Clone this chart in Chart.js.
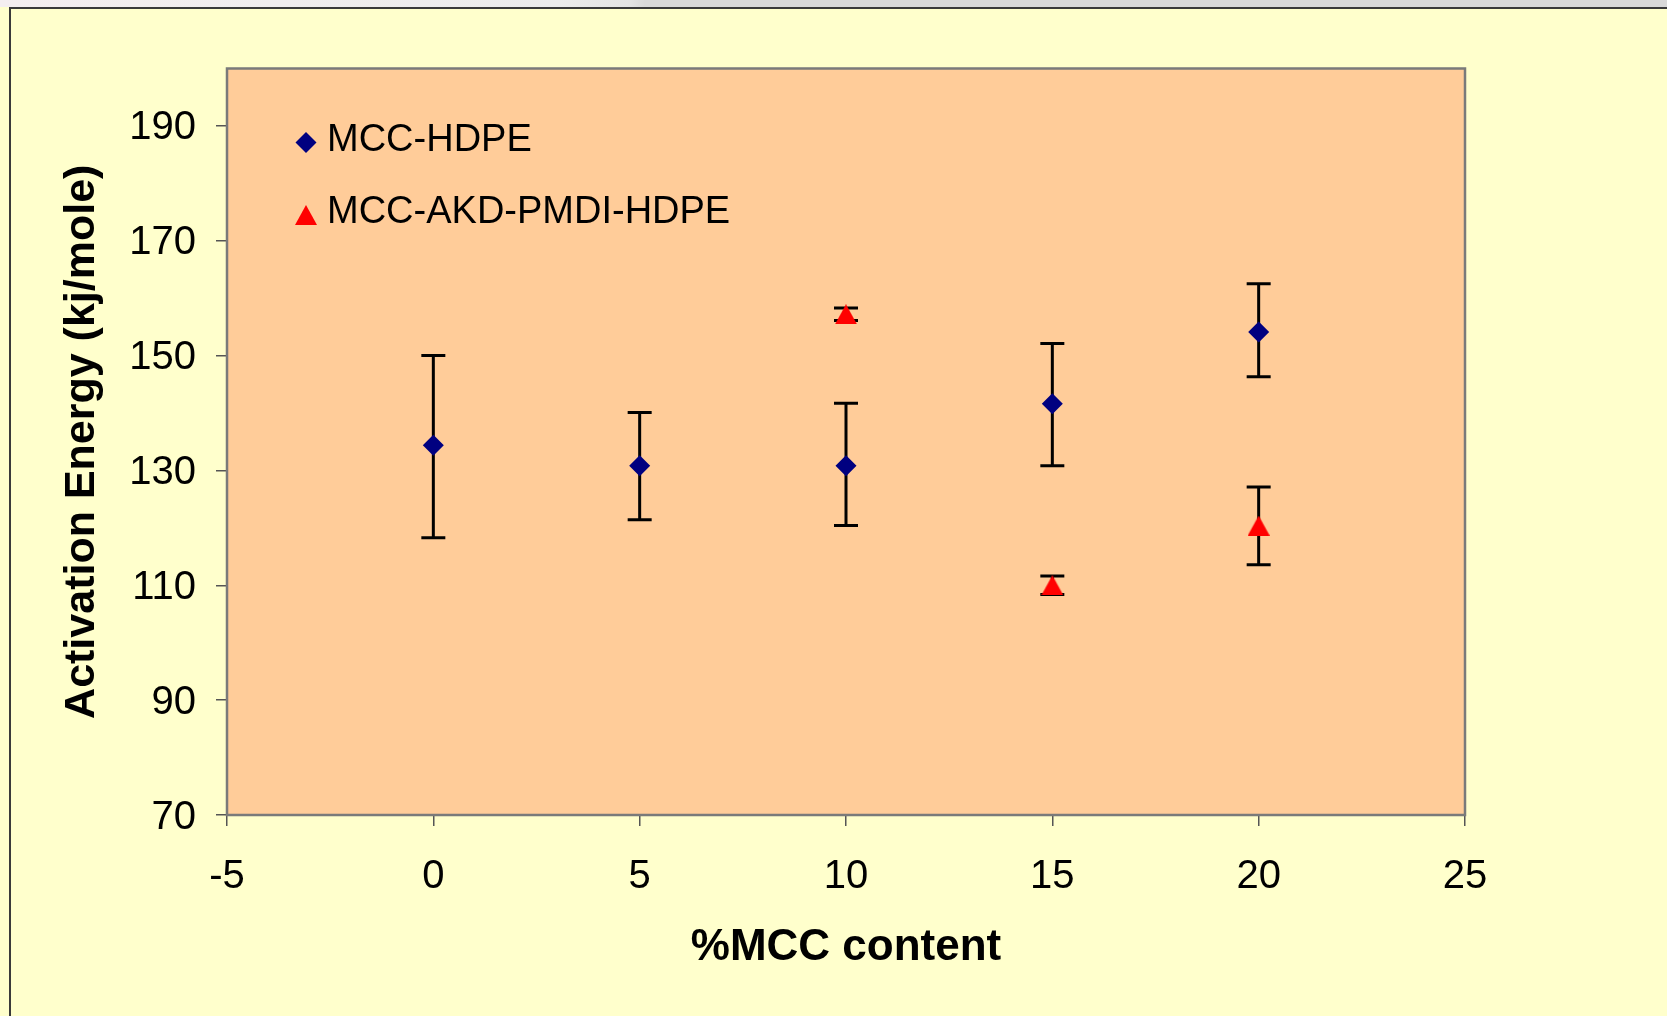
<!DOCTYPE html>
<html>
<head>
<meta charset="utf-8">
<script src="https://cdn.jsdelivr.net/npm/chart.js"></script>
<style>
    html, body {
        margin: 0;
        padding: 0;
        width: 1667px;
        height: 1016px;
        overflow: hidden;
        background: #FFFFCC;
    }
    #strip {
        position: absolute;
        left: 0;
        top: 0;
        width: 1667px;
        height: 7px;
        background: linear-gradient(to right, #f4eef0 0px, #ececec 560px, #e4e4e4 630px, #d9d9d9 645px, #d9d9d9 100%);
    }
    #frame {
        position: absolute;
        left: 9px;
        top: 7px;
        width: 1680px;
        height: 1030px;
        border-left: 2px solid #3a3a3a;
        border-top: 2px solid #3a3a3a;
    }
    #chart-box {
        position: absolute;
        left: 0;
        top: 0;
    }
</style>
</head>
<body>
<div id="strip"></div>
<div id="frame"></div>
<div id="chart-box">
    <canvas id="energy-chart" width="1667" height="1016"></canvas>
</div>
<script>
// MCC-HDPE composites
const hdpeX = [0, 5, 10, 15, 20];
const hdpeMean = [134.4, 130.8, 130.8, 141.6, 154.1];
const hdpeLow = [118.3, 121.4, 120.4, 130.8, 146.3];
const hdpeHigh = [150.0, 140.1, 141.7, 152.1, 162.5];

// MCC-AKD-PMDI-HDPE composites
const akdX = [10, 15, 20];
const akdMean = [157.2, 110.0, 120.4];
const akdLow = [156.1, 108.4, 113.6];
const akdHigh = [158.3, 111.6, 127.1];

const xTicks = [-5, 0, 5, 10, 15, 20, 25];
const yTicks = [70, 90, 110, 130, 150, 170, 190];

const seriesNames = ['MCC-HDPE', 'MCC-AKD-PMDI-HDPE'];

// triangle marker centred on its bounding box
function makeTriangle(w, h, color) {
    const c = document.createElement('canvas');
    c.width = w;
    c.height = h;
    const g = c.getContext('2d');
    g.fillStyle = color;
    g.beginPath();
    g.moveTo(0, h);
    g.lineTo(w / 2, 0);
    g.lineTo(w, h);
    g.closePath();
    g.fill();
    return c;
}
const redTriangle = makeTriangle(22, 20, '#FF0000');

function toPoints(xs, ys) {
    return xs.map((x, i) => ({ x: x, y: ys[i] }));
}

// peach plot area and its grey frame
const plotAreaPlugin = {
    id: 'plotArea',
    beforeDraw(chart) {
        const { ctx, chartArea: a } = chart;
        ctx.save();
        ctx.fillStyle = '#FFCC99';
        ctx.fillRect(a.left, a.top, a.right - a.left, a.bottom - a.top);
        ctx.restore();
    },
    afterDraw(chart) {
        const { ctx, chartArea: a } = chart;
        ctx.save();
        ctx.strokeStyle = '#7a7a7a';
        ctx.lineWidth = 2.5;
        ctx.strokeRect(a.left, a.top, a.right - a.left, a.bottom - a.top);
        ctx.restore();
    }
};

// vertical error bars with caps, drawn under the markers
const errorBarPlugin = {
    id: 'errorBars',
    beforeDatasetsDraw(chart) {
        const { ctx, scales: { x, y } } = chart;
        const sets = [
            { xs: hdpeX, lo: hdpeLow, hi: hdpeHigh },
            { xs: akdX, lo: akdLow, hi: akdHigh }
        ];
        ctx.save();
        ctx.strokeStyle = '#000000';
        ctx.lineWidth = 3;
        ctx.lineCap = 'butt';
        sets.forEach(s => {
            s.xs.forEach((xv, i) => {
                const px = x.getPixelForValue(xv);
                const top = y.getPixelForValue(s.hi[i]);
                const bottom = y.getPixelForValue(s.lo[i]);
                ctx.beginPath();
                ctx.moveTo(px, top);
                ctx.lineTo(px, bottom);
                ctx.moveTo(px - 12, top);
                ctx.lineTo(px + 12, top);
                ctx.moveTo(px - 12, bottom);
                ctx.lineTo(px + 12, bottom);
                ctx.stroke();
            });
        });
        ctx.restore();
    }
};

// legend in the upper left corner of the plot area
const insideLegendPlugin = {
    id: 'insideLegend',
    afterDraw(chart) {
        const { ctx, chartArea: a } = chart;
        const rows = [
            { name: seriesNames[0], style: 'rectRot', radius: 10.5, color: '#000080', y: a.top + 73.5 },
            { name: seriesNames[1], style: redTriangle, radius: 10, color: '#FF0000', y: a.top + 146 }
        ];
        ctx.save();
        rows.forEach(r => {
            ctx.fillStyle = r.color;
            Chart.helpers.drawPoint(ctx, { pointStyle: r.style, radius: r.radius, rotation: 0, borderWidth: 0 }, a.left + 79, r.y + 0.5);
            ctx.fillStyle = '#000000';
            ctx.font = '38px "Liberation Sans", Arial, sans-serif';
            ctx.textAlign = 'left';
            ctx.textBaseline = 'middle';
            ctx.fillText(r.name, a.left + 100, r.y - 1.5);
        });
        ctx.restore();
    }
};

const ctx = document.getElementById('energy-chart').getContext('2d');

new Chart(ctx, {
    type: 'scatter',
    data: {
        datasets: [
            {
                label: seriesNames[0],
                data: toPoints(hdpeX, hdpeMean),
                pointStyle: 'rectRot',
                pointRadius: 10.5,
                pointBackgroundColor: '#000080',
                pointBorderWidth: 0,
                showLine: false
            },
            {
                label: seriesNames[1],
                data: toPoints(akdX, akdMean),
                pointStyle: redTriangle,
                pointRadius: 10,
                pointBackgroundColor: '#FF0000',
                pointBorderWidth: 0,
                showLine: false
            }
        ]
    },
    options: {
        responsive: false,
        animation: false,
        events: [],
        layout: {
            padding: { left: 0, top: 68.5, right: 202, bottom: 0 }
        },
        plugins: {
            legend: { display: false },
            tooltip: { enabled: false }
        },
        scales: {
            x: {
                type: 'linear',
                min: -5,
                max: 25,
                afterBuildTicks: scale => {
                    scale.ticks = xTicks.map(v => ({ value: v }));
                },
                afterFit: scale => {
                    scale.height = 201;
                },
                grid: {
                    drawOnChartArea: false,
                    drawTicks: true,
                    tickLength: 11,
                    color: '#555555',
                    lineWidth: 1.5
                },
                border: { display: false },
                ticks: {
                    color: '#000000',
                    padding: 27,
                    maxRotation: 0,
                    font: { family: '"Liberation Sans", Arial, sans-serif', size: 40 }
                },
                title: {
                    display: true,
                    text: '%MCC content',
                    color: '#000000',
                    padding: { top: 0, bottom: 41.5 },
                    font: { family: '"Liberation Sans", Arial, sans-serif', size: 44, weight: 'bold' }
                }
            },
            y: {
                type: 'linear',
                min: 70,
                max: 200,
                afterBuildTicks: scale => {
                    scale.ticks = yTicks.map(v => ({ value: v }));
                },
                afterFit: scale => {
                    scale.width = 227;
                },
                grid: {
                    drawOnChartArea: false,
                    drawTicks: true,
                    tickLength: 11,
                    color: '#555555',
                    lineWidth: 1.5
                },
                border: { display: false },
                ticks: {
                    color: '#000000',
                    padding: 20,
                    labelOffset: 2.5,
                    font: { family: '"Liberation Sans", Arial, sans-serif', size: 40 }
                },
                title: {
                    display: true,
                    text: 'Activation Energy (kj/mole)',
                    color: '#000000',
                    padding: { top: 56, bottom: 0 },
                    font: { family: '"Liberation Sans", Arial, sans-serif', size: 43, weight: 'bold' }
                }
            }
        }
    },
    plugins: [plotAreaPlugin, errorBarPlugin, insideLegendPlugin]
});
</script>
</body>
</html>
